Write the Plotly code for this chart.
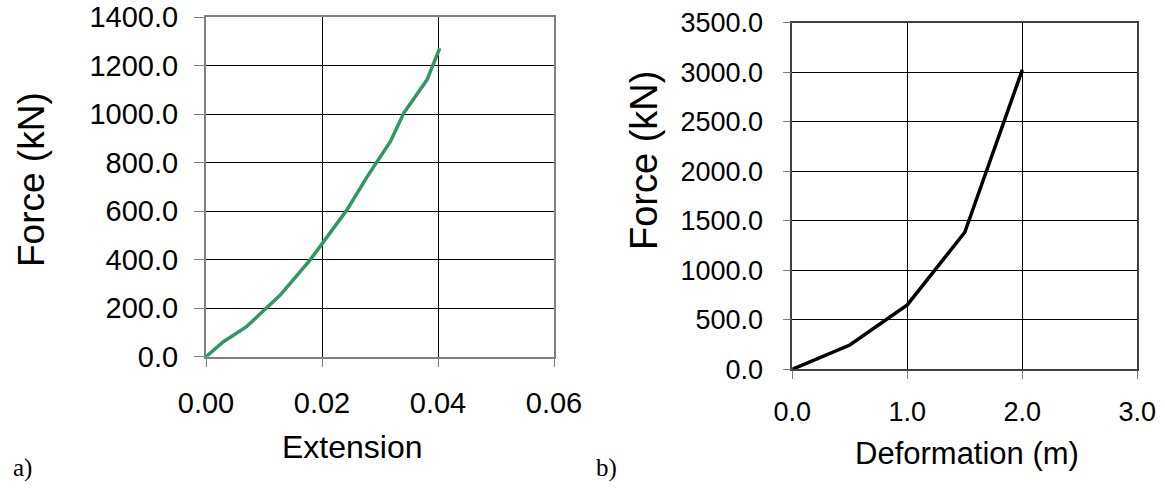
import plotly.graph_objects as go

# Chart a) Force vs Extension
ext = [0.0, 0.003, 0.007, 0.0128, 0.018, 0.0203, 0.0243, 0.0278, 0.0318, 0.0341, 0.0381, 0.0403]
force_a = [0.0, 62, 124, 254, 400, 474, 605, 742, 887, 1004, 1141, 1272]

# Chart b) Force vs Deformation
deform = [0.0, 0.5, 1.0, 1.5, 2.0]
force_b = [0.0, 245, 650, 1384, 3023]

a_xticks = [0.0, 0.02, 0.04, 0.06]
a_yticks = [0, 200, 400, 600, 800, 1000, 1200, 1400]
b_xticks = [0.0, 1.0, 2.0, 3.0]
b_yticks = [0, 500, 1000, 1500, 2000, 2500, 3000, 3500]

W, H = 1165, 488
FONT = "Liberation Sans, Arial, sans-serif"

def px_x(p):
    return p / W

def px_y(p):
    return (H - p) / H

fig = go.Figure()
fig.add_trace(go.Scatter(x=ext, y=force_a, mode="lines",
                         line=dict(color="#2e9a62", width=3.5),
                         xaxis="x", yaxis="y", showlegend=False))
fig.add_trace(go.Scatter(x=deform, y=force_b, mode="lines",
                         line=dict(color="#000000", width=3.5),
                         xaxis="x2", yaxis="y2", showlegend=False))

common = dict(showgrid=True, gridcolor="#000000", gridwidth=1.2,
              showline=True, mirror=True, ticks="outside",
              zeroline=False, tickcolor="#808080", automargin=False)

fig.update_layout(
    width=W, height=H,
    margin=dict(l=0, r=0, t=0, b=0, autoexpand=False),
    paper_bgcolor="white", plot_bgcolor="white",
    font=dict(family=FONT, color="black"),
    xaxis=dict(domain=[px_x(206), px_x(554)], range=[0, 0.06],
               tickvals=a_xticks, tickformat=".2f", ticklen=8,
               linecolor="#808080", linewidth=2,
               tickfont=dict(size=29, family=FONT), ticklabelstandoff=11,
               anchor="y", **common),
    yaxis=dict(domain=[px_y(356.7), px_y(17)], range=[0, 1400],
               tickvals=a_yticks, tickformat=".1f", ticklen=10,
               linecolor="#808080", linewidth=2,
               tickfont=dict(size=29, family=FONT), ticklabelstandoff=10,
               anchor="x", **common),
    xaxis2=dict(domain=[px_x(792.3), px_x(1137.3)], range=[0, 3.0],
                tickvals=b_xticks, tickformat=".1f", ticklen=8,
                linecolor="#404040", linewidth=1.5,
                tickfont=dict(size=27, family=FONT), ticklabelstandoff=10,
                anchor="y2", **common),
    yaxis2=dict(domain=[px_y(369.3), px_y(22.7)], range=[0, 3500],
                tickvals=b_yticks, tickformat=".1f", ticklen=8,
                linecolor="#404040", linewidth=1.5,
                tickfont=dict(size=27, family=FONT), ticklabelstandoff=14,
                anchor="x2", **common),
)

annotations = [
    dict(text="Force (kN)", x=px_x(32), y=px_y(180), textangle=-90,
         font=dict(size=37, family=FONT)),
    dict(text="Extension", x=px_x(352), y=px_y(447),
         font=dict(size=32, family=FONT)),
    dict(text="Force (kN)", x=px_x(644), y=px_y(161), textangle=-90,
         font=dict(size=38, family=FONT)),
    dict(text="Deformation (m)", x=px_x(967), y=px_y(453),
         font=dict(size=31, family=FONT)),
    dict(text="a)", x=px_x(22), y=px_y(468),
         font=dict(size=25, family="Liberation Serif, Times New Roman, serif")),
    dict(text="b)", x=px_x(606), y=px_y(468),
         font=dict(size=25, family="Liberation Serif, Times New Roman, serif")),
]
for a in annotations:
    a.update(xref="paper", yref="paper", showarrow=False,
             xanchor="center", yanchor="middle")
fig.update_layout(annotations=annotations)

fig.write_html("out.html",
               config={"displayModeBar": False},
               post_script="document.body.style.margin='0';"
                           "document.body.style.overflow='hidden';")
